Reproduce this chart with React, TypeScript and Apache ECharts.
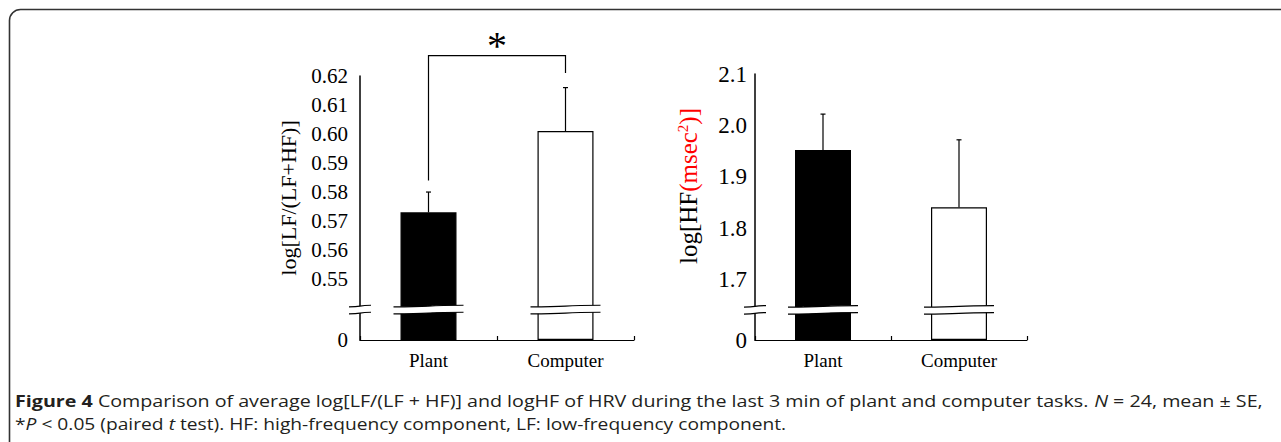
import React, { useEffect, useRef } from 'react';
import * as echarts from 'echarts';

// ---------- data ----------
const categories = ['Plant', 'Computer'];
const lfRatioMean = [0.573, 0.601];
const lfRatioSE = [0.007, 0.015];
const lfTicks = [0, 0.55, 0.56, 0.57, 0.58, 0.59, 0.6, 0.61, 0.62];
const hfMean = [1.952, 1.841];
const hfSE = [0.07, 0.131];
const hfTicks = [0, 1.7, 1.8, 1.9, 2.0, 2.1];
const bracketLegBottoms = [0.584, 0.621];
const bracketLevel = [0.627];
const sigMark = ['*'];
const lfAxisName = 'log[LF/(LF+HF)]';
const captionLine1 =
  '{b|Figure 4} Comparison of average log[LF/(LF + HF)] and logHF of HRV during the last 3 min of plant and computer tasks. {i|N} = 24, mean ± SE,';
const captionLine2 =
  '*{i|P} < 0.05 (paired {i|t} test). HF: high-frequency component, LF: low-frequency component.';

// broken-axis mapping (internal linear scale)
const LF_BASE = 0.55;
const LF_OFF = 0.021;
const HF_BASE = 1.7;
const HF_OFF = 0.1173;
const toLF = (v: number) => (v === 0 ? 0 : v - LF_BASE + LF_OFF);
const toHF = (v: number) => (v === 0 ? 0 : v - HF_BASE + HF_OFF);

const SERIF = 'Liberation Serif';
const SANS = 'Open Sans';

function breakPath(cx: number, cy: number, hw: number) {
  const x0 = cx - hw;
  const x1 = cx + hw;
  const g = 3.5;
  const s = 0.8;
  const qa = cx - hw * 0.3;
  const qb = cx + hw * 0.3;
  const top = `M${x0} ${cy - g + s} C${qb} ${cy - g + s} ${qa} ${cy - g - s} ${x1} ${cy - g - s}`;
  const bot = `M${x0} ${cy + g + s} C${qb} ${cy + g + s} ${qa} ${cy + g - s} ${x1} ${cy + g - s}`;
  const fill = `M${x0} ${cy - g + s} C${qb} ${cy - g + s} ${qa} ${cy - g - s} ${x1} ${cy - g - s} L${x1} ${cy + g - s} C${qa} ${cy + g - s} ${qb} ${cy + g + s} ${x0} ${cy + g + s} Z`;
  return {
    type: 'group',
    children: [
      { type: 'path', shape: { pathData: fill }, style: { fill: '#fff', stroke: null } },
      { type: 'path', shape: { pathData: top }, style: { fill: null, stroke: '#000', lineWidth: 1.2 } },
      { type: 'path', shape: { pathData: bot }, style: { fill: null, stroke: '#000', lineWidth: 1.2 } },
    ],
  };
}

function makeBreakSeries(gridIdx: number, b: number) {
  return {
    type: 'custom',
    xAxisIndex: gridIdx,
    yAxisIndex: gridIdx,
    z: 10,
    clip: false,
    silent: true,
    data: [
      [0, b, 0],
      [0, b, 1],
      [1, b, 1],
    ],
    renderItem: (params: any, api: any) => {
      const p = api.coord([api.value(0), api.value(1)]);
      const band = api.size([1, 0])[0];
      if (api.value(2) === 0) {
        return breakPath(p[0] - band / 2, p[1], 11);
      }
      return breakPath(p[0], p[1], 35);
    },
  };
}

function makeErrSeries(gridIdx: number, means: number[], ses: number[], map: (v: number) => number) {
  return {
    type: 'custom',
    xAxisIndex: gridIdx,
    yAxisIndex: gridIdx,
    z: 3,
    clip: false,
    silent: true,
    data: means.map((m, i) => [i, map(m), map(m + ses[i])]),
    renderItem: (params: any, api: any) => {
      const a = api.coord([api.value(0), api.value(1)]);
      const b = api.coord([api.value(0), api.value(2)]);
      return {
        type: 'group',
        children: [
          { type: 'line', shape: { x1: a[0], y1: a[1], x2: b[0], y2: b[1] }, style: { stroke: '#000', lineWidth: 1.2 } },
          { type: 'line', shape: { x1: b[0] - 2.5, y1: b[1], x2: b[0] + 2.5, y2: b[1] }, style: { stroke: '#000', lineWidth: 1.2 } },
        ],
      };
    },
  };
}

function makeBars(gridIdx: number, means: number[], map: (v: number) => number) {
  return {
    type: 'bar',
    xAxisIndex: gridIdx,
    yAxisIndex: gridIdx,
    barWidth: 56,
    z: 2,
    silent: true,
    data: means.map((m, i) => ({
      value: map(m),
      itemStyle:
        i === 0
          ? { color: '#000', borderColor: '#000', borderWidth: 1.2 }
          : { color: '#fff', borderColor: '#000', borderWidth: 1.2 },
    })),
  };
}

function xAxisFor(gridIdx: number) {
  return {
    type: 'category',
    gridIndex: gridIdx,
    data: categories,
    boundaryGap: true,
    axisLine: { show: true, lineStyle: { color: '#000', width: 1.2 } },
    axisTick: { show: true, inside: true, length: 4, alignWithLabel: false, lineStyle: { color: '#000', width: 1.2 } },
    axisLabel: { color: '#000', fontFamily: SERIF, fontSize: 19, margin: 11 },
    splitLine: { show: false },
  };
}

export default function App() {
  const ref = useRef<HTMLDivElement>(null);
  useEffect(() => {
    if (!ref.current) return;
    const chart = echarts.init(ref.current, null, { renderer: 'svg' });
    const lfMax = toLF(lfTicks[lfTicks.length - 1]);
    const hfMax = toHF(hfTicks[hfTicks.length - 1]);
    const nearestLabel = (ticks: number[], map: (v: number) => number, digits: number) => (val: number) => {
      let best = ticks[0];
      let bd = Infinity;
      ticks.forEach((t) => {
        const d = Math.abs(map(t) - val);
        if (d < bd) {
          bd = d;
          best = t;
        }
      });
      return best === 0 ? '0' : best.toFixed(digits);
    };

    const option: any = {
      animation: false,
      backgroundColor: '#fff',
      grid: [
        { left: 360, top: 76, width: 274, height: 264 },
        { left: 755, top: 74, width: 272, height: 266 },
      ],
      xAxis: [xAxisFor(0), xAxisFor(1)],
      yAxis: [
        {
          type: 'value',
          gridIndex: 0,
          min: 0,
          max: lfMax,
          axisLine: { show: true, lineStyle: { color: '#000', width: 1.5 } },
          axisTick: { show: false },
          splitLine: { show: false },
          axisLabel: {
            customValues: lfTicks.map(toLF),
            formatter: nearestLabel(lfTicks, toLF, 2),
            color: '#000',
            fontFamily: SERIF,
            fontSize: 21,
            margin: 12,
          },
          name: lfAxisName,
          nameLocation: 'middle',
          nameRotate: 90,
          nameGap: 61,
          nameTextStyle: { color: '#000', fontFamily: SERIF, fontSize: 22, padding: [0, 0, 0, 20] },
        },
        {
          type: 'value',
          gridIndex: 1,
          min: 0,
          max: hfMax,
          axisLine: { show: true, lineStyle: { color: '#000', width: 1.5 } },
          axisTick: { show: false },
          splitLine: { show: false },
          axisLabel: {
            customValues: hfTicks.map(toHF),
            formatter: nearestLabel(hfTicks, toHF, 1),
            color: '#000',
            fontFamily: SERIF,
            fontSize: 23,
            margin: 8,
          },
          name: '{a|log[HF}{r|(msec}{s|2}{r|)]}',
          nameLocation: 'middle',
          nameRotate: 90,
          nameGap: 54,
          nameTextStyle: {
            color: '#000',
            fontFamily: SERIF,
            fontSize: 25,
            padding: [0, 0, 0, 42],
            rich: {
              a: { color: '#000', fontFamily: SERIF, fontSize: 25, lineHeight: 26 },
              r: { color: '#ff0000', fontFamily: SERIF, fontSize: 25, lineHeight: 26 },
              s: { color: '#ff0000', fontFamily: SERIF, fontSize: 15, lineHeight: 26, verticalAlign: 'top', padding: [0, 0, 9, 0] },
            },
          },
        },
      ],
      series: [
        makeBars(0, lfRatioMean, toLF),
        makeErrSeries(0, lfRatioMean, lfRatioSE, toLF),
        makeBreakSeries(0, LF_OFF / 2),
        makeBars(1, hfMean, toHF),
        makeErrSeries(1, hfMean, hfSE, toHF),
        makeBreakSeries(1, HF_OFF / 2),
        {
          type: 'custom',
          xAxisIndex: 0,
          yAxisIndex: 0,
          z: 4,
          clip: false,
          silent: true,
          data: [[0, toLF(bracketLegBottoms[0]), toLF(bracketLevel[0]), 1, toLF(bracketLegBottoms[1])]],
          renderItem: (params: any, api: any) => {
            const a = api.coord([api.value(0), api.value(1)]);
            const top = api.coord([api.value(0), api.value(2)]);
            const c = api.coord([api.value(3), api.value(4)]);
            const mid = (a[0] + c[0]) / 2;
            return {
              type: 'group',
              children: [
                {
                  type: 'polyline',
                  shape: { points: [[a[0], a[1]], [a[0], top[1]], [c[0], top[1]], [c[0], c[1]]] },
                  style: { stroke: '#000', lineWidth: 1.2, fill: null },
                },
                {
                  type: 'text',
                  style: {
                    text: sigMark[0],
                    x: mid,
                    y: top[1] + 10,
                    align: 'center',
                    verticalAlign: 'bottom',
                    fontFamily: SERIF,
                    fontSize: 40,
                    fill: '#000',
                  },
                },
              ],
            };
          },
        },
      ],
      graphic: [
        {
          type: 'rect',
          shape: { x: 9.5, y: 9.5, width: 1320, height: 480, r: 11 },
          style: { fill: null, stroke: '#333', lineWidth: 1.6 },
          silent: true,
        },
        {
          type: 'text',
          x: 15,
          y: 401,
          scaleX: 1.23,
          style: {
            text: captionLine1,
            verticalAlign: 'middle',
            fontFamily: SANS,
            fontSize: 16,
            fill: '#231f20',
            rich: {
              b: { fontWeight: 'bold', fontFamily: SANS, fontSize: 16, fill: '#231f20' },
              i: { fontStyle: 'italic', fontFamily: SANS, fontSize: 16, fill: '#231f20' },
            },
          },
        },
        {
          type: 'text',
          x: 15,
          y: 424,
          scaleX: 1.2,
          style: {
            text: captionLine2,
            verticalAlign: 'middle',
            fontFamily: SANS,
            fontSize: 16,
            fill: '#231f20',
            rich: {
              i: { fontStyle: 'italic', fontFamily: SANS, fontSize: 16, fill: '#231f20' },
            },
          },
        },
      ],
    };
    chart.setOption(option);
    return () => chart.dispose();
  }, []);
  return (
    <div
      ref={ref}
      style={{ position: 'fixed', left: 0, top: 0, width: 1281, height: 442, background: '#fff' }}
    />
  );
}
